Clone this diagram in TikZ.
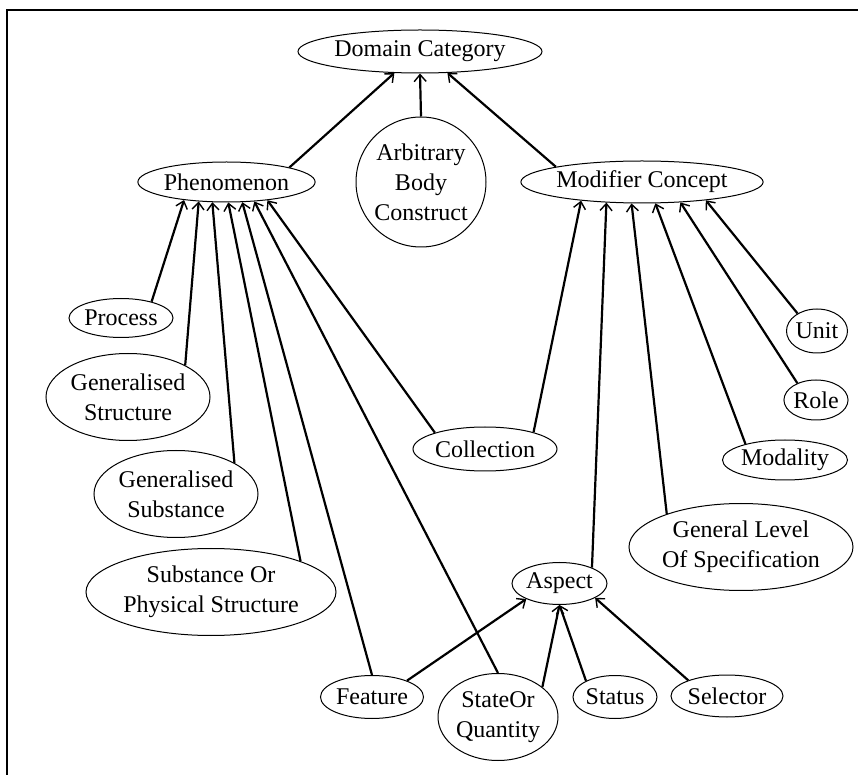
\documentclass[tikz,border=0pt]{standalone}
\usepackage{fontspec}
\setmainfont{Liberation Serif}
\usetikzlibrary{shapes.geometric,arrows.meta}
\begin{document}
\begin{tikzpicture}[x=0.5pt,y=-0.5pt,
  nd/.style={ellipse,draw,line width=0.5pt,inner sep=0pt,align=center,font=\fontsize{12}{15}\selectfont},
  ed/.style={line width=1.1pt,-{Straight Barb[length=3.5pt,width=6pt,line width=0.7pt]}},
  frame/.style={line width=0.8pt}]
\useasboundingbox (0,0) rectangle (858,775);
\draw[frame] (7,775) -- (7,10) -- (858,10);

\node[nd,minimum width=122pt,minimum height=21.5pt] (dc) at (420,51.5) {Domain Category};
\node[nd,minimum width=88.5pt,minimum height=20pt] (phen) at (226.5,182) {Phenomenon};
\node[nd,circle,minimum size=65pt] (abc) at (421,182) {Arbitrary\\Body\\Construct};
\node[nd,minimum width=121pt,minimum height=21pt] (mod) at (642,182) {Modifier Concept};
\node[nd,minimum width=52pt,minimum height=19.5pt] (proc) at (121,318) {Process};
\node[nd,minimum width=82pt,minimum height=43.5pt] (gstr) at (128,397) {Generalised\\Structure};
\node[nd,minimum width=82pt,minimum height=43.5pt] (gsub) at (176,494) {Generalised\\Substance};
\node[nd,minimum width=125pt,minimum height=43.5pt] (sops) at (211,592) {Substance Or\\Physical Structure};
\node[nd,minimum width=51.5pt,minimum height=21.5pt] (feat) at (372,697) {Feature};
\node[nd,minimum width=72pt,minimum height=22pt] (coll) at (485,449) {Collection};
\node[nd,minimum width=30.5pt,minimum height=22pt] (unit) at (817,331) {Unit};
\node[nd,minimum width=32pt,minimum height=20pt] (role) at (816,400) {Role};
\node[nd,minimum width=62.5pt,minimum height=20pt] (moda) at (785,460) {Modality};
\node[nd,minimum width=112pt,minimum height=43.5pt] (glos) at (741,547) {General Level\\Of Specification};
\node[nd,minimum width=47.5pt,minimum height=21pt] (asp) at (559.5,583.5) {Aspect};
\node[nd,minimum width=60pt,minimum height=43.5pt] (soq) at (498,717) {StateOr\\Quantity};
\node[nd,minimum width=42pt,minimum height=21.5pt] (stat) at (615,697) {Status};
\node[nd,minimum width=56pt,minimum height=21pt] (sel) at (727,696) {Selector};

\draw[ed] (phen.13) -- (dc.220);
\draw[ed] (abc.90) -- (dc.270);
\draw[ed] (mod.170) -- (dc.322);

\draw[ed] (proc.28) -- (phen.203);
\draw[ed] (gstr.29) -- (phen.215);
\draw[ed] (gsub.28) -- (phen.235);
\draw[ed] (sops.19) -- (phen.275);
\draw[ed] (feat.90) -- (phen.308);
\draw[ed] (soq.90) -- (phen.325);
\draw[ed] (coll.162) -- (phen.336);

\draw[ed] (coll.19) -- (mod.197);
\draw[ed] (asp.26) -- (mod.210);
\draw[ed] (glos.156) -- (mod.244);
\draw[ed] (moda.158) -- (mod.302);
\draw[ed] (role.138) -- (mod.332);
\draw[ed] (unit.138) -- (mod.344);

\draw[ed] (feat.25) -- (asp.205);
\draw[ed] (soq.34) -- (asp.270);
\draw[ed] (stat.151) -- (asp.270);
\draw[ed] (sel.158) -- (asp.338);
\end{tikzpicture}
\end{document}
